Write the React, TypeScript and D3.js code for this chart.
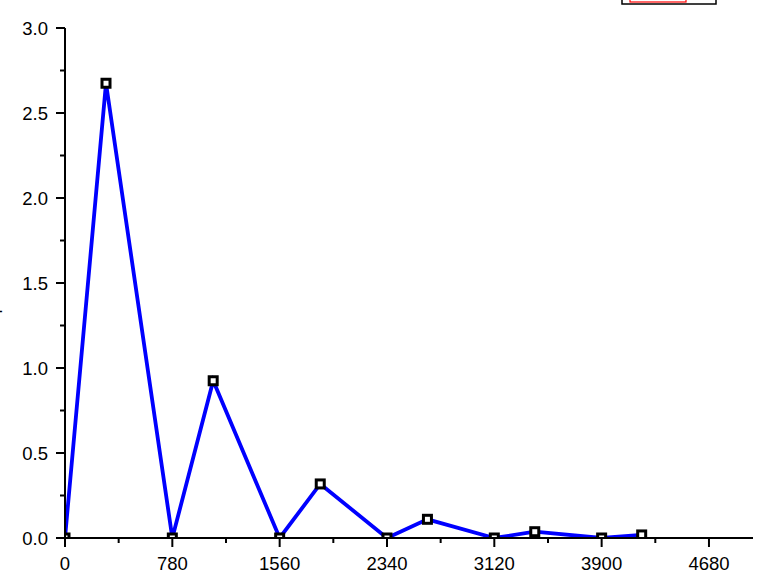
import React from "react";
import * as d3 from "d3";

const xValues = [0, 298, 780, 1077, 1560, 1855, 2340, 2634, 3120, 3414, 3900, 4191];
const yValues = [0, 2.675, 0, 0.925, 0, 0.318, 0, 0.11, 0, 0.037, 0, 0.018];
const xTicks = [0, 780, 1560, 2340, 3120, 3900, 4680];
const xMinorTicks = [390, 1170, 1950, 2730, 3510, 4290];
const yTicks = [0, 0.5, 1.0, 1.5, 2.0, 2.5, 3.0];
const yMinorTicks = [0.25, 0.75, 1.25, 1.75, 2.25, 2.75];

const W = 770;
const H = 584;
const left = 65;
const right = 753;
const top = 28;
const bottom = 538;

export default function App() {
  const x = d3.scaleLinear().domain([0, 5000]).range([left, right]);
  const y = d3.scaleLinear().domain([0, 3]).range([bottom, top]);
  const pts = xValues.map((v, i) => [v, yValues[i]] as [number, number]);
  const line = d3
    .line<[number, number]>()
    .x((d) => x(d[0]))
    .y((d) => y(d[1]));
  const font = "Arial, 'Liberation Sans', sans-serif";
  return (
    <svg
      width={W}
      height={H}
      style={{ position: "absolute", left: 0, top: 0, background: "#fff" }}
    >
      <defs>
        <clipPath id="plot">
          <rect x={left} y={0} width={right - left} height={bottom} />
        </clipPath>
      </defs>
      <g clipPath="url(#plot)">
        <path d={line(pts) || ""} fill="none" stroke="#0000ff" strokeWidth={3.8} strokeLinejoin="miter" />
        {pts.map((d, i) => (
          <rect
            key={i}
            x={x(d[0]) - 4}
            y={y(d[1]) - 4}
            width={8}
            height={8}
            fill="#fff"
            stroke="#000"
            strokeWidth={3}
          />
        ))}
      </g>
      {/* axes */}
      <line x1={left} x2={left} y1={top} y2={bottom + 1} stroke="#000" strokeWidth={2} />
      <line x1={left - 1} x2={right} y1={bottom} y2={bottom} stroke="#000" strokeWidth={2} />
      {yTicks.map((t) => (
        <g key={"yt" + t}>
          <line x1={left - 9} x2={left} y1={y(t)} y2={y(t)} stroke="#000" strokeWidth={2} />
          <text
            x={48}
            y={y(t) + 6.5}
            textAnchor="end"
            fontFamily={font}
            fontSize={18.5}
            fill="#000"
          >
            {t.toFixed(1)}
          </text>
        </g>
      ))}
      {yMinorTicks.map((t) => (
        <line key={"ym" + t} x1={left - 5} x2={left} y1={y(t)} y2={y(t)} stroke="#000" strokeWidth={2} />
      ))}
      {xTicks.map((t) => (
        <g key={"xt" + t}>
          <line x1={x(t)} x2={x(t)} y1={bottom} y2={bottom + 9} stroke="#000" strokeWidth={2} />
          <text
            x={x(t)}
            y={569.5}
            textAnchor="middle"
            fontFamily={font}
            fontSize={18.5}
            fill="#000"
          >
            {t}
          </text>
        </g>
      ))}
      {xMinorTicks.map((t) => (
        <line key={"xm" + t} x1={x(t)} x2={x(t)} y1={bottom} y2={bottom + 5} stroke="#000" strokeWidth={2} />
      ))}
      {/* y-axis title, mostly outside the view */}
      <text
        transform="translate(-2,300) rotate(-90)"
        textAnchor="middle"
        fontFamily={font}
        fontSize={18.5}
        fill="#000"
      >
        Amplitude
      </text>
      {/* legend box, mostly above the view */}
      <rect x={622} y={-20} width={94} height={24} fill="#fff" stroke="#000" strokeWidth={1.5} />
      <rect x={630} y={-20} width={56} height={22} fill="none" stroke="#ff0000" strokeWidth={1.2} />
    </svg>
  );
}
